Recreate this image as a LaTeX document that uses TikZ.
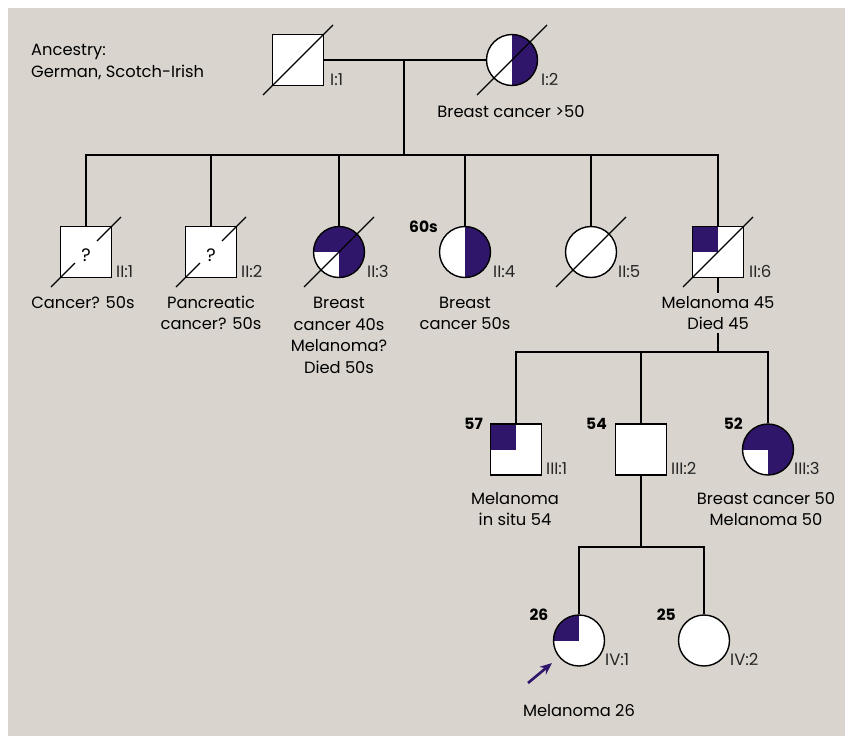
\documentclass[tikz,border=0pt]{standalone}
\usepackage{fontspec}
\setmainfont{Poppins}
\usetikzlibrary{arrows.meta,calc}
\definecolor{bg}{RGB}{217,213,206}
\definecolor{aff}{RGB}{48,22,106}
\begin{document}
\begin{tikzpicture}[x=1pt,y=-1pt,
  sym/.style={draw=black, line width=1.4pt, fill=white, inner sep=0pt, minimum size=51pt},
  male/.style={sym, rectangle},
  female/.style={sym, circle},
  pUL/.style={path picture={\fill[aff] (path picture bounding box.center) rectangle (path picture bounding box.north west);}},
  pRH/.style={path picture={\fill[aff] (path picture bounding box.south) rectangle (path picture bounding box.north east);}},
  pTQ/.style={path picture={\fill[aff] (path picture bounding box.west) rectangle (path picture bounding box.north east);
                            \fill[aff] (path picture bounding box.south) rectangle (path picture bounding box.east);}},
  conn/.style={line width=1.4pt, draw=black},
  dec/.style={line width=1.2pt, draw=black},
  lab/.style={font=\fontsize{16.3}{21.5}\selectfont, align=center, inner sep=0pt, text=black},
  qm/.style={font=\fontsize{18}{20}\selectfont, inner sep=0pt, text=black},
  idl/.style={font=\fontsize{16.5}{18}\selectfont, inner sep=0pt, anchor=base west, text=black!85},
  age/.style={font=\fontsize{15.5}{17}\selectfont\bfseries, inner sep=0pt, anchor=base east},
  arr/.style={draw=aff, fill=aff, line width=2.6pt, -{Stealth[length=12pt,width=10pt]}}
]
% canvas
\fill[white] (0,0) rectangle (845,736);
\fill[bg] (8,8) rectangle (845,736);
\useasboundingbox (0,0) rectangle (845,736);

% generation I
\node[male] (I1) at (298,60) {};
\node[female,pRH] (I2) at (512,60) {};
% generation II
\node[male] (II1) at (86,252) {};
\node[male] (II2) at (211,252) {};
\node[female,pTQ] (II3) at (339,252) {};
\node[female,pRH] (II4) at (465,252) {};
\node[female] (II5) at (591,252) {};
\node[male,pUL] (II6) at (718,252) {};
% generation III
\node[male,pUL] (III1) at (516,449.5) {};
\node[male] (III2) at (641,449.5) {};
\node[female,pTQ] (III3) at (768,449.5) {};
% generation IV
\node[female,pUL] (IV1) at (579,640.5) {};
\node[female] (IV2) at (704,640.5) {};

% question marks
\node[qm] (q1) at ([yshift=-3]II1.center) {?};
\node[qm] (q2) at ([yshift=-3]II2.center) {?};

% deceased diagonals
\foreach \n in {I1,I2,II3,II5,II6}{
  \draw[dec] ([shift={(-35,35)}]\n.center) -- ([shift={(35,-35)}]\n.center);
}
\foreach \n in {II1,II2}{
  \draw[dec] ([shift={(-35,35)}]\n.center) -- ([shift={(-11,11)}]\n.center);
  \draw[dec] ([shift={(11,-11)}]\n.center) -- ([shift={(35,-35)}]\n.center);
}

% connectors
\coordinate (m1) at (404,60);
\coordinate (s1) at (404,155);
\draw[conn] (I1.east) -- (I2.west);
\draw[conn] (m1) -- (s1);
\foreach \n in {II1,II2,II3,II4,II5,II6}{ \draw[conn] (\n.north) |- (s1); }
\coordinate (s2) at (718,352);
\draw[conn] (II6.south) -- (s2);
\foreach \n in {III1,III2,III3}{ \draw[conn] (\n.north) |- (s2); }
\coordinate (s3) at (641,547);
\draw[conn] (III2.south) -- (s3);
\foreach \n in {IV1,IV2}{ \draw[conn] (\n.north) |- (s3); }

% proband arrow
\coordinate (arS) at (528,683);
\draw[arr, shorten >=9pt] (arS) -- (IV1);

% id labels
\node[idl] (lI1) at ([shift={(32,25)}]I1.center) {I:1};
\node[idl] (lI2) at ([shift={(29,25)}]I2.center) {I:2};
\node[idl] (lII1) at ([shift={(30,25)}]II1.center) {II:1};
\node[idl] (lII2) at ([shift={(30,25)}]II2.center) {II:2};
\node[idl] (lII3) at ([shift={(28,25)}]II3.center) {II:3};
\node[idl] (lII4) at ([shift={(28,25)}]II4.center) {II:4};
\node[idl] (lII5) at ([shift={(27,25)}]II5.center) {II:5};
\node[idl] (lII6) at ([shift={(31,25)}]II6.center) {II:6};
\node[idl] (lIII1) at ([shift={(30,25)}]III1.center) {III:1};
\node[idl] (lIII2) at ([shift={(30,25)}]III2.center) {III:2};
\node[idl] (lIII3) at ([shift={(26,25)}]III3.center) {III:3};
\node[idl] (lIV1) at ([shift={(26,25)}]IV1.center) {IV:1};
\node[idl] (lIV2) at ([shift={(26,25)}]IV2.center) {IV:2};

% ages
\node[age] (aII4) at ([shift={(-27,-20)}]II4.center) {60s};
\node[age] (aIII1) at ([shift={(-33,-20.5)}]III1.center) {57};
\node[age] (aIII2) at ([shift={(-34,-20.5)}]III2.center) {54};
\node[age] (aIII3) at ([shift={(-25,-20.5)}]III3.center) {52};
\node[age] (aIV1) at ([shift={(-30.5,-20)}]IV1.center) {26};
\node[age] (aIV2) at ([shift={(-28,-20)}]IV2.center) {25};

% descriptions (base anchor = baseline of last line)
\node[lab, anchor=base west, align=left] (anc) at (31,77) {Ancestry:\\German, Scotch-Irish};
\node[lab, anchor=base] (dI2) at (511,117) {Breast cancer >50};
\node[lab, anchor=base] (dII1) at (83,308) {Cancer? 50s};
\node[lab, anchor=base] (dII2) at (211,329.5) {Pancreatic\\cancer? 50s};
\node[lab, anchor=base] (dII3) at (339,373) {Breast\\cancer 40s\\Melanoma?\\Died 50s};
\node[lab, anchor=base] (dII4) at (465,329.5) {Breast\\cancer 50s};
\node[lab, anchor=base, fill=bg, inner ysep=3pt] (dII6) at (718,329.5) {Melanoma 45\\Died 45};
\node[lab, anchor=base] (dIII1) at (515,525.5) {Melanoma\\in situ 54};
\node[lab, anchor=base] (dIII3) at (766,525.5) {Breast cancer 50\\Melanoma 50};
\node[lab, anchor=base] (dIV1) at (579,716) {Melanoma 26};
\end{tikzpicture}
\end{document}
